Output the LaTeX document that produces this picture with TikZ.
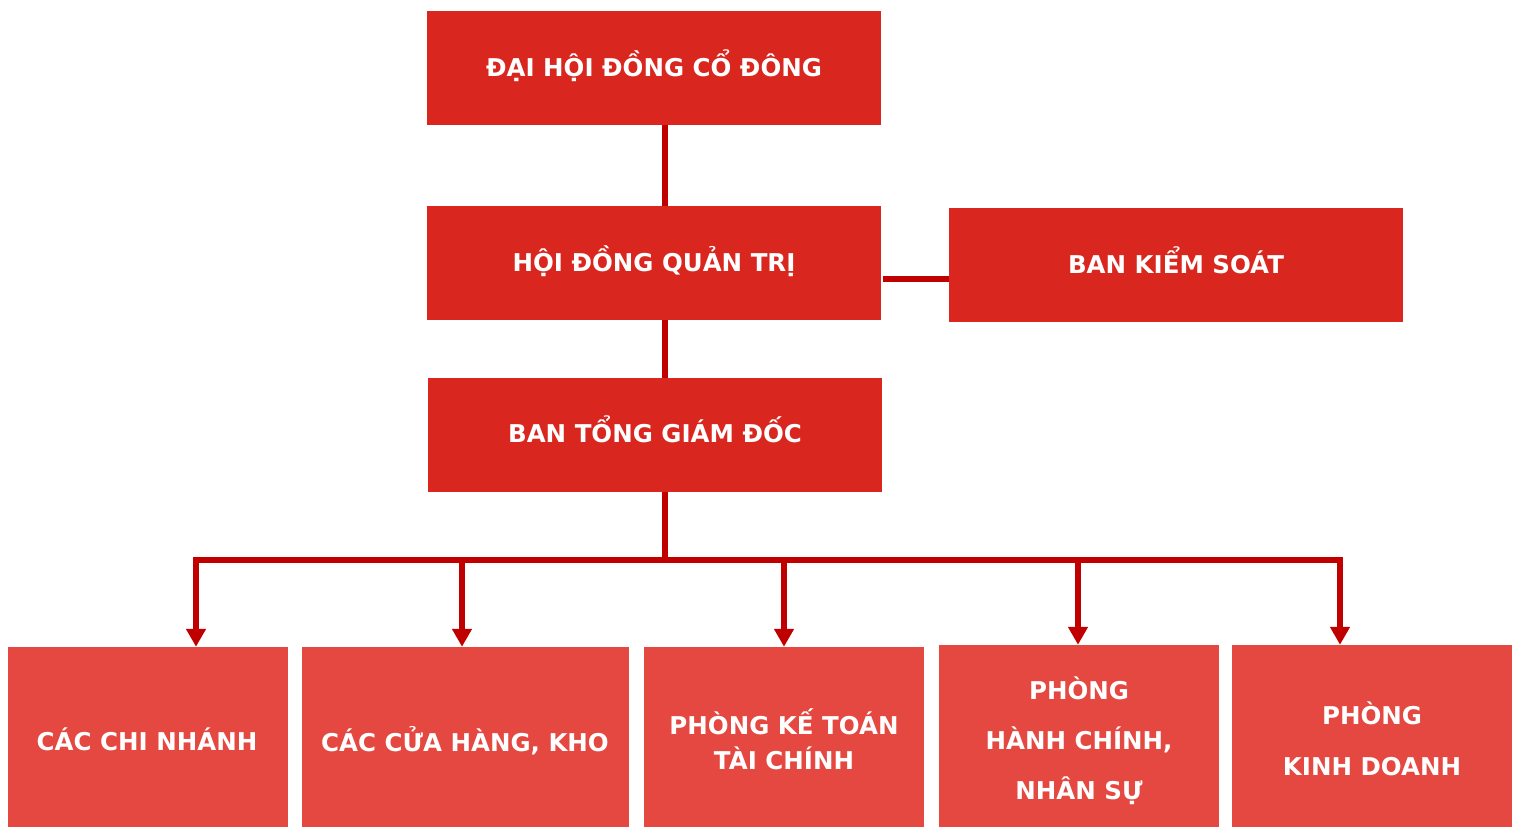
\documentclass[tikz,border=0pt]{standalone}
\usepackage{fontspec}
\setmainfont{DejaVu Sans}
\usetikzlibrary{arrows.meta}
\definecolor{topred}{RGB}{217,38,30}
\definecolor{lowred}{RGB}{229,72,64}
\definecolor{linered}{RGB}{192,0,0}
\tikzset{
  upbox/.style={fill=topred, draw=none, minimum width=454pt, minimum height=114pt, inner sep=0pt},
  lowbox/.style={fill=lowred, draw=none, minimum width=280pt, minimum height=180pt, inner sep=0pt},
  txt/.style={text=white, font=\bfseries\fontsize{24.5}{29}\selectfont, inner sep=0pt, text height=18pt, text depth=0pt},
  mtxt/.style={text=white, inner sep=0pt, align=center},
  conn/.style={draw=linered, line width=5.5pt},
  arr/.style={draw=linered, line width=5.5pt, -{Triangle[length=18pt,width=19pt]}}
}
\begin{document}
\begin{tikzpicture}[x=1pt,y=-1pt]
\useasboundingbox (0,0) rectangle (1518,827);
\node[upbox] (dh) at (654,68) {};
\node[upbox] (hd) at (654,263) {};
\node[upbox] (bks) at (1176,265) {};
\node[upbox] (tgd) at (655,435) {};
\node[lowbox] (b1) at (148,737) {};
\node[lowbox, minimum width=327pt] (b2) at (465.5,737) {};
\node[lowbox] (b3) at (784,737) {};
\node[lowbox, minimum height=182pt] (b4) at (1079,736) {};
\node[lowbox, minimum height=182pt] (b5) at (1372,736) {};
\node[txt] (dht) at (654,67) {ĐẠI HỘI ĐỒNG CỔ ĐÔNG};
\node[txt] (hdt) at (654,262) {HỘI ĐỒNG QUẢN TRỊ};
\node[txt] (bkst) at (1176,264) {BAN KIỂM SOÁT};
\node[txt] (tgdt) at (655,433) {BAN TỔNG GIÁM ĐỐC};
\node[txt] (b1t) at (147,741) {CÁC CHI NHÁNH};
\node[txt] (b2t) at (465,742) {CÁC CỬA HÀNG, KHO};
\node[mtxt, font=\bfseries\fontsize{24.5}{35}\selectfont] (b3t) at (784,739.5) {PHÒNG KẾ TOÁN\\TÀI CHÍNH};
\node[mtxt, font=\bfseries\fontsize{24.5}{50}\selectfont] (b4t) at (1079,741) {PHÒNG\\HÀNH CHÍNH,\\NHÂN SỰ};
\node[mtxt, font=\bfseries\fontsize{24.5}{51}\selectfont] (b5t) at (1372,738.5) {PHÒNG\\KINH DOANH};
\coordinate (j) at (665,560);
\coordinate (a1) at (665,125);
\coordinate (a2) at (665,206);
\coordinate (a3) at (665,320);
\coordinate (a4) at (665,378);
\coordinate (a5) at (665,492);
\coordinate (h1) at (883,279);
\draw[conn] (a1) -- (a2);
\draw[conn] (a3) -- (a4);
\draw[conn] (h1) -- (h1 -| bks.west);
\draw[conn] (a5) -- (j);
\coordinate (t1) at (196,560);
\coordinate (t2) at (462,560);
\coordinate (t3) at (784,560);
\coordinate (t4) at (1078,560);
\coordinate (t5) at (1340,560);
\draw[conn, line cap=rect] (t1) -- (t5);
\foreach \i in {1,...,5}{
  \draw[arr] ([yshift=2.75pt]t\i) -- (t\i |- b\i.north);
}
\end{tikzpicture}
\end{document}
